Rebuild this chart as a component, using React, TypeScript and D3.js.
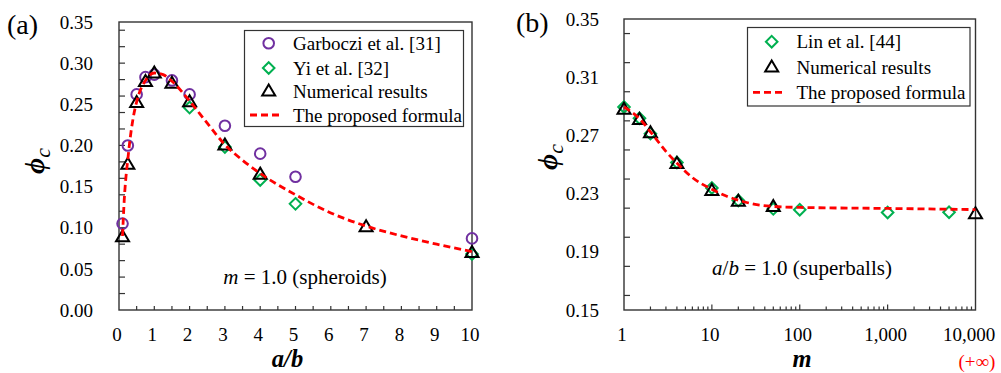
import React from "react";
import * as d3 from "d3";

// ---------- Panel (a) data ----------
const garbX = [0.1, 0.25, 0.5, 0.75, 1.0, 1.5, 2, 3, 4, 5, 10];
const garbY = [0.105, 0.2, 0.262, 0.283, 0.286, 0.279, 0.262, 0.224, 0.19, 0.162, 0.087];
const yiX = [2, 3, 4, 5, 10];
const yiY = [0.246, 0.198, 0.158, 0.129, 0.068];
const numAX = [0.1, 0.25, 0.5, 0.75, 1.0, 1.5, 2, 3, 4, 7, 10];
const numAY = [0.089, 0.177, 0.252, 0.2775, 0.288, 0.2755, 0.253, 0.2005, 0.165, 0.101, 0.0697];
const fitAX = [0.1, 0.15, 0.2, 0.25, 0.3, 0.4, 0.5, 0.75, 1.0, 1.25, 1.5, 2, 2.5, 3, 3.5, 4, 5, 6, 7, 8, 9, 10];
const fitAY = [0.09, 0.135, 0.163, 0.183, 0.203, 0.233, 0.253, 0.279, 0.288, 0.286, 0.278, 0.254, 0.227, 0.201, 0.182, 0.166, 0.14, 0.118, 0.102, 0.09, 0.08, 0.071];
const xTickLabelsA = [0, 1, 2, 3, 4, 5, 6, 7, 8, 9, 10];
const yTickLabelsA = [0, 0.05, 0.1, 0.15, 0.2, 0.25, 0.3, 0.35];

// ---------- Panel (b) data ----------
const linX = [1, 1.5, 2, 4, 10, 20, 50, 100, 1000, 5000];
const linY = [0.2895, 0.2818, 0.2712, 0.2514, 0.2339, 0.2252, 0.2195, 0.2189, 0.217, 0.2172];
const numBX = [1, 1.5, 2, 4, 10, 20, 50, 10000];
const numBY = [0.2879, 0.2808, 0.2717, 0.2507, 0.232, 0.2247, 0.2211, 0.2161];
const fitBX = [1, 1.5, 2, 3, 4, 6, 10, 15, 20, 30, 50, 100, 1000, 10000];
const fitBY = [0.2895, 0.2815, 0.2725, 0.259, 0.251, 0.241, 0.233, 0.228, 0.2255, 0.2228, 0.2212, 0.2205, 0.2198, 0.219];
const xTickLabelsB = ["1", "10", "100", "1,000", "10,000"];
const xTickValuesB = [1, 10, 100, 1000, 10000];
const yTickLabelsB = [0.15, 0.19, 0.23, 0.27, 0.31, 0.35];

const PURPLE = "#7030A0";
const GREEN = "#00B050";
const RED = "#FF0000";
const FONT = '"Liberation Serif", "Times New Roman", "Tinos"';

const Circle = ({ x, y }: { x: number; y: number }) => (
  <circle cx={x} cy={y} r={5.3} fill="none" stroke={PURPLE} strokeWidth={2} />
);
const Diamond = ({ x, y }: { x: number; y: number }) => {
  const s = 5.8;
  return (
    <path d={`M${x},${y - s}L${x + s},${y}L${x},${y + s}L${x - s},${y}Z`} fill="none" stroke={GREEN} strokeWidth={2} />
  );
};
const Tri = ({ x, y }: { x: number; y: number }) => {
  const w = 6.5, h = 11;
  return (
    <path d={`M${x},${y - h * 0.6}L${x + w},${y + h * 0.4}L${x - w},${y + h * 0.4}Z`} fill="none" stroke="#000" strokeWidth={2} strokeLinejoin="miter" />
  );
};

const T = (p: any) => <text {...p} style={{ fontFamily: FONT }} />;

function PanelA() {
  const L = 119, R = 472, Tp = 22, B = 310;
  const x = d3.scaleLinear().domain([0, 10]).range([L, R]);
  const y = d3.scaleLinear().domain([0, 0.35]).range([B, Tp]);
  const line = d3.line<number>().x((d, i) => x(fitAX[i])).y((d) => y(d)).curve(d3.curveMonotoneX);
  const xMinor = d3.range(0, 20).map((i) => i * 0.5).filter((v) => v > 0);
  const yMinor = y.ticks(14).filter((v) => v > 0 && v < 0.35);
  return (
    <g>
      <T x={7} y={34} fontSize={28}>(a)</T>
      {xMinor.map((v) => (
        <line key={"xm" + v} x1={x(v)} x2={x(v)} y1={B} y2={B - 4} stroke="#333" strokeWidth={1.2} />
      ))}
      {yMinor.map((v) => (
        <line key={"ym" + v} x1={L} x2={L + 6} y1={y(v)} y2={y(v)} stroke="#333" strokeWidth={1.2} />
      ))}
      <rect x={L} y={Tp} width={R - L} height={B - Tp} fill="none" stroke="#333" strokeWidth={1.4} />
      {yTickLabelsA.map((v) => (
        <T key={"yl" + v} x={L - 26} y={y(v)} dy="0.35em" textAnchor="end" fontSize={19}>
          {v.toFixed(2)}
        </T>
      ))}
      {xTickLabelsA.map((v) => (
        <T key={"xl" + v} x={x(v) - 2} y={341} textAnchor="middle" fontSize={19}>
          {v}
        </T>
      ))}
      <T x={x(5) - 8} y={367} textAnchor="middle" fontSize={24.5} fontStyle="italic" fontWeight="bold">
        a/b
      </T>
      <T transform={`translate(44,161) rotate(-90)`} textAnchor="middle">
        <tspan fontSize={28} fontStyle="italic" fontWeight="bold">ϕ</tspan>
        <tspan fontSize={22} fontStyle="italic" dy={6}>c</tspan>
      </T>
      <T x={305} y={284} textAnchor="middle" fontSize={21}>
        <tspan fontStyle="italic">m</tspan> = 1.0 (spheroids)
      </T>
      {garbX.map((v, i) => <Circle key={"g" + i} x={x(v)} y={y(garbY[i])} />)}
      {yiX.map((v, i) => <Diamond key={"d" + i} x={x(v)} y={y(yiY[i])} />)}
      {numAX.map((v, i) => <Tri key={"t" + i} x={x(v)} y={y(numAY[i])} />)}
      <path d={line(fitAY) || ""} fill="none" stroke={RED} strokeWidth={2.8} strokeDasharray="7,4" />
      <rect x={244.5} y={30.5} width={219} height={96} fill="#fff" stroke="#333" strokeWidth={1.2} />
      <Circle x={268.7} y={43.3} />
      <Diamond x={268.7} y={68} />
      <Tri x={268.7} y={91} />
      <line x1={250} x2={282} y1={115} y2={115} stroke={RED} strokeWidth={2.8} strokeDasharray="7,4" />
      {[["Garboczi et al. [31]", 43.3], ["Yi et al. [32]", 68], ["Numerical results", 91], ["The proposed formula", 115]].map(([t, yy]) => (
        <T key={t as string} x={293} y={yy as number} dy="0.35em" fontSize={19}>{t}</T>
      ))}
    </g>
  );
}

function PanelB() {
  const L = 624, R = 975.5, Tp = 19, B = 310;
  const x = d3.scaleLog().domain([1, 10000]).range([L, R]);
  const y = d3.scaleLinear().domain([0.15, 0.35]).range([B, Tp]);
  const line = d3.line<number>().x((d, i) => x(fitBX[i])).y((d) => y(d)).curve(d3.curveMonotoneX);
  const minors: number[] = [];
  [1, 10, 100, 1000].forEach((dec) => { for (let k = 2; k <= 9; k++) minors.push(dec * k); });
  const yMinor = y.ticks(10).filter((v) => v > 0.15 && v < 0.35);
  return (
    <g>
      <T x={516} y={32} fontSize={28}>(b)</T>
      {minors.map((v) => (
        <line key={"xm" + v} x1={x(v)} x2={x(v)} y1={B} y2={B - 3.5} stroke="#333" strokeWidth={1.2} />
      ))}
      {xTickValuesB.slice(1, 4).map((v) => (
        <line key={"xM" + v} x1={x(v)} x2={x(v)} y1={B} y2={B - 5.5} stroke="#333" strokeWidth={1.2} />
      ))}
      {yMinor.map((v) => (
        <line key={"ym" + v} x1={L} x2={L + 6} y1={y(v)} y2={y(v)} stroke="#333" strokeWidth={1.2} />
      ))}
      <rect x={L} y={Tp} width={R - L} height={B - Tp} fill="none" stroke="#333" strokeWidth={1.4} />
      {yTickLabelsB.map((v) => (
        <T key={"yl" + v} x={L - 25} y={y(v)} dy="0.35em" textAnchor="end" fontSize={19}>
          {v.toFixed(2)}
        </T>
      ))}
      {xTickValuesB.map((v, i) => (
        <T key={"xl" + v} x={Math.min(x(v) - 2, 969)} y={341} textAnchor="middle" fontSize={19}>
          {xTickLabelsB[i]}
        </T>
      ))}
      <T x={977} y={368} textAnchor="middle" fontSize={19} fill={RED}>(+∞)</T>
      <T x={802} y={367} textAnchor="middle" fontSize={24.5} fontStyle="italic" fontWeight="bold">m</T>
      <T transform={`translate(557,157) rotate(-90)`} textAnchor="middle">
        <tspan fontSize={28} fontStyle="italic" fontWeight="bold">ϕ</tspan>
        <tspan fontSize={22} fontStyle="italic" dy={6}>c</tspan>
      </T>
      <T x={802} y={275} textAnchor="middle" fontSize={21}>
        <tspan fontStyle="italic">a</tspan>/<tspan fontStyle="italic">b</tspan> = 1.0 (superballs)
      </T>
      {linX.map((v, i) => <Diamond key={"d" + i} x={x(v)} y={y(linY[i])} />)}
      {numBX.map((v, i) => <Tri key={"t" + i} x={x(v)} y={y(numBY[i])} />)}
      <path d={line(fitBY) || ""} fill="none" stroke={RED} strokeWidth={2.8} strokeDasharray="7,4" />
      <rect x={747.5} y={27.5} width={222.5} height={78.5} fill="#fff" stroke="#333" strokeWidth={1.2} />
      <Diamond x={771.7} y={41.7} />
      <Tri x={771.7} y={67} />
      <line x1={753} x2={785} y1={92.3} y2={92.3} stroke={RED} strokeWidth={2.8} strokeDasharray="7,4" />
      {[["Lin et al. [44]", 41.7], ["Numerical results", 67], ["The proposed formula", 92.3]].map(([t, yy]) => (
        <T key={t as string} x={796.5} y={yy as number} dy="0.35em" fontSize={19}>{t}</T>
      ))}
    </g>
  );
}

export default function App() {
  return (
    <svg width={1001} height={373} style={{ position: "absolute", left: 0, top: 0, background: "#fff" }}>
      <rect width={1001} height={373} fill="#fff" />
      <PanelA />
      <PanelB />
    </svg>
  );
}
